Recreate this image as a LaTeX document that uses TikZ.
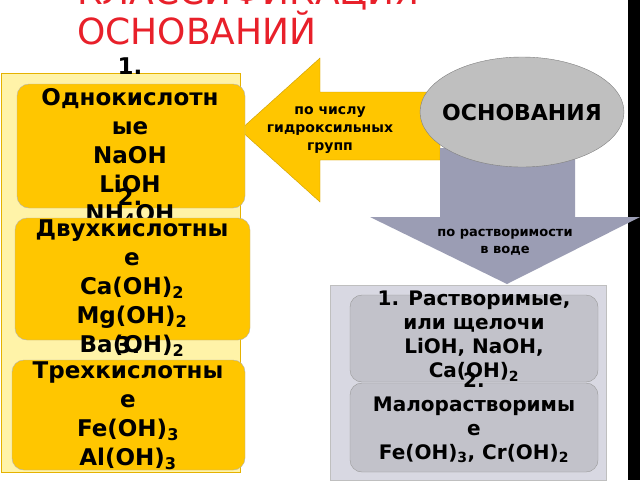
\documentclass[tikz,border=0pt]{standalone}
\usepackage{fontspec}
\setmainfont{DejaVu Sans}
\usetikzlibrary{positioning, shapes.geometric, shapes.arrows}
\definecolor{gold}{HTML}{FFC600}
\definecolor{paleyellow}{HTML}{FFF3A8}
\definecolor{slate}{HTML}{9B9DB4}
\definecolor{lightslate}{HTML}{D8D8E2}
\definecolor{boxgray}{HTML}{C2C2CA}
\definecolor{titlered}{HTML}{E8202A}
\newcommand{\sub}[1]{\textsubscript{#1}}
\begin{document}
\begin{tikzpicture}[x=1pt, y=-1pt,
    groupbox/.style={draw=black!30, rounded corners=12pt, fill=gold},
    solbox/.style={draw=black!40, rounded corners=12pt, fill=boxgray},
    boxtext/.style={anchor=north, align=center, font=\bfseries\fontsize{23}{29}\selectfont, inner sep=0pt},
    soltext/.style={anchor=north, align=center, font=\bfseries\fontsize{20}{24}\selectfont, inner sep=0pt},
    arrowtext/.style={align=center, font=\bfseries\fontsize{14}{18}\selectfont}
]
\useasboundingbox (0,0) rectangle (640,480);
\fill[white] (0,0) rectangle (640,480);

% Title
\node[anchor=north west, text=titlered, align=left, font=\fontsize{36}{38}\selectfont, inner sep=0pt] (title) at (77,-22) {КЛАССИФИКАЦИЯ\\ОСНОВАНИЙ};

% Right edge bar
\fill[black] (628,0) rectangle (640,480);

% Arrows
\path[fill=gold, draw=gold!80!black] (240,130) -- (320,58) -- (320,92) -- (440,92) -- (440,160) -- (320,160) -- (320,202) -- cycle;
\node[arrowtext] (count) at (330,130) {по числу\\гидроксильных\\групп};
\path[fill=slate] (440,148) -- (575,148) -- (575,217) -- (640,217) -- (507,284) -- (370,217) -- (440,217) -- cycle;
\node[arrowtext, font=\bfseries\fontsize{13}{17}\selectfont] (solub) at (505,242) {по растворимости\\в воде};

% Bases
\node[ellipse, draw=black!50, fill=black!25, inner sep=0pt, minimum width=204pt, minimum height=110pt] (bases) at (522,112) {};
\node[font=\bfseries\fontsize{22}{26}\selectfont] (basestext) at (bases.center) {ОСНОВАНИЯ};

% Left panel
\draw[draw=gold!90!black, fill=paleyellow] (1,73) rectangle (240,472);
\node[boxtext] (n1) at (130,58) {1.};
\draw[groupbox] (17,84) rectangle (245,208);
\node[boxtext] (mono) at (130,88) {Однокислотн\\ые\\NaOH\\LiOH\\NH\sub{4}OH};
\node[boxtext] (n2) at (130,188) {2.};
\draw[groupbox] (15,218) rectangle (250,340);
\node[boxtext] (di) at (132,220) {Двухкислотны\\е\\Ca(OH)\sub{2}\\Mg(OH)\sub{2}\\Ba(OH)\sub{2}};
\node[boxtext] (n3) at (128,336) {3.};
\draw[groupbox] (12,360) rectangle (245,470);
\node[boxtext] (tri) at (128,362) {Трехкислотны\\е\\Fe(OH)\sub{3}\\Al(OH)\sub{3}};

% Right panel
\draw[draw=black!25, fill=lightslate] (330,285) rectangle (606,480);
\draw[solbox] (350,295) rectangle (598,382);
\node[soltext] (sol) at (474,291) {1. Растворимые,\\или щелочи\\LiOH, NaOH,\\Ca(OH)\sub{2}};
\draw[solbox] (350,383) rectangle (598,472);
\node[soltext] (low) at (474,372) {2.\\Малорастворимы\\е\\Fe(OH)\sub{3}, Cr(OH)\sub{2}};
\end{tikzpicture}
\end{document}
